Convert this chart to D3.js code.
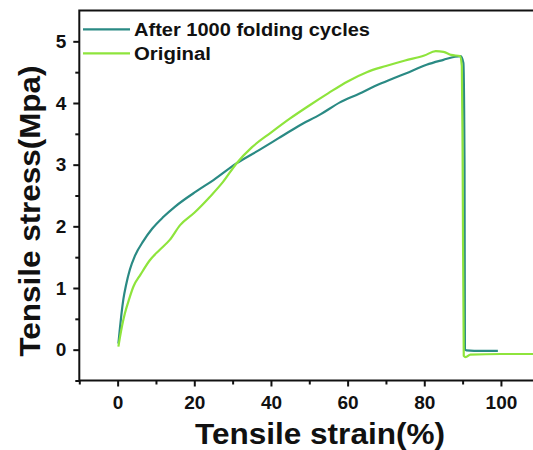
<!DOCTYPE html>
<html>
<head>
<meta charset="utf-8">
<script src="https://cdn.jsdelivr.net/npm/d3@7"></script>
<style>
  body { margin: 0; background: #fff; }
  svg { display: block; font-family: "Liberation Sans", Arial, sans-serif; }
</style>
</head>
<body>
<div id="chart"></div>
<script>
// Data: strain (%) and stress (MPa)
var seriesNames = ["After 1000 folding cycles", "Original"];
var seriesColors = ["#2a8a84", "#8ee43c"];

var afterStrain = [0.2, 0.6, 1.0, 1.5, 2.2, 3.2, 4.5, 6.7, 9.0, 11.9, 15.0, 20.6, 25.0, 31.0, 37.0, 42.0,
                   47.0, 53.0, 58.0, 63.0, 67.0, 72.0, 76.0, 80.6, 85.0, 88.0, 89.5, 90.2, 90.5, 90.6, 91.0, 95.0, 99.2];
var afterStress = [0.10, 0.35, 0.58, 0.82, 1.05, 1.30, 1.52, 1.76, 1.96, 2.15, 2.32, 2.57, 2.75, 3.02, 3.24, 3.43,
                   3.62, 3.82, 4.01, 4.15, 4.27, 4.40, 4.50, 4.62, 4.70, 4.75, 4.76, 4.65, 3.00, 0.00, -0.01, -0.02, -0.02];

var origStrain = [0.2, 0.6, 1.2, 1.9, 3.0, 4.1, 6.0, 8.4, 11.0, 13.6, 16.3, 20.0, 24.1, 27.5, 31.0, 35.0, 40.0,
                  45.0, 50.0, 55.0, 60.0, 65.0, 70.0, 75.0, 80.0, 83.0, 85.0, 87.0, 89.3, 89.8, 90.0, 90.3, 90.8, 92.0, 100.0, 112.0];
var origStress = [0.05, 0.20, 0.40, 0.59, 0.82, 1.02, 1.22, 1.45, 1.62, 1.78, 2.02, 2.22, 2.48, 2.72, 3.02, 3.28, 3.52,
                  3.75, 3.96, 4.16, 4.35, 4.50, 4.60, 4.69, 4.77, 4.84, 4.83, 4.78, 4.76, 4.60, 3.20, -0.10, -0.12, -0.08, -0.07, -0.07];

var xMajor = [0, 20, 40, 60, 80, 100];
var xMinor = [-10, 10, 30, 50, 70, 90, 110];
var yMajor = [0, 1, 2, 3, 4, 5];
var yMinor = [-0.5, 0.5, 1.5, 2.5, 3.5, 4.5];

var width = 533, height = 450;
var plotLeft = 79.3, plotTop = 10.5, plotBottom = 380.5, plotRight = 577.6;

var x = d3.scaleLinear().domain([-10, 120]).range([plotLeft, plotRight]);
var y = d3.scaleLinear().domain([-0.5, 5.5]).range([plotBottom, plotTop]);

var svg = d3.select("#chart").append("svg")
  .attr("width", width)
  .attr("height", height);

// curves
var line = d3.line()
  .x(function(d) { return x(d[0]); })
  .y(function(d) { return y(d[1]); })
  .curve(d3.curveMonotoneX);
var series = [d3.zip(afterStrain, afterStress), d3.zip(origStrain, origStress)];
series.forEach(function(s, i) {
  svg.append("path")
    .datum(s)
    .attr("d", line)
    .attr("fill", "none")
    .attr("stroke", seriesColors[i])
    .attr("stroke-width", 2.2)
    .attr("stroke-linejoin", "round");
});

// frame
svg.append("rect")
  .attr("x", plotLeft).attr("y", plotTop)
  .attr("width", plotRight - plotLeft).attr("height", plotBottom - plotTop)
  .attr("fill", "none").attr("stroke", "#111").attr("stroke-width", 2);

// x axis ticks
var xAxis = d3.axisBottom(x).tickValues(xMajor).tickSize(6).tickSizeOuter(0).tickPadding(9);
var gx = svg.append("g").attr("transform", "translate(0," + plotBottom + ")").call(xAxis);
gx.select(".domain").remove();
gx.selectAll(".tick line").attr("stroke", "#111").attr("stroke-width", 2);
gx.selectAll(".tick text").attr("fill", "#111").style("font-size", "19px").style("font-weight", "bold");
var gxm = svg.append("g").attr("transform", "translate(0," + plotBottom + ")")
  .call(d3.axisBottom(x).tickValues(xMinor).tickSize(4).tickFormat(""));
gxm.select(".domain").remove();
gxm.selectAll(".tick line").attr("stroke", "#111").attr("stroke-width", 2);

// y axis ticks
var yAxis = d3.axisLeft(y).tickValues(yMajor).tickFormat(d3.format("d"))
  .tickSize(6).tickSizeOuter(0).tickPadding(7);
var gy = svg.append("g").attr("transform", "translate(" + plotLeft + ",0)").call(yAxis);
gy.select(".domain").remove();
gy.selectAll(".tick line").attr("stroke", "#111").attr("stroke-width", 2);
gy.selectAll(".tick text").attr("fill", "#111").style("font-size", "19px").style("font-weight", "bold");
var gym = svg.append("g").attr("transform", "translate(" + plotLeft + ",0)")
  .call(d3.axisLeft(y).tickValues(yMinor).tickSize(4).tickFormat(""));
gym.select(".domain").remove();
gym.selectAll(".tick line").attr("stroke", "#111").attr("stroke-width", 2);

// axis titles
svg.append("text")
  .attr("x", 320).attr("y", 444)
  .attr("text-anchor", "middle")
  .attr("textLength", 250).attr("lengthAdjust", "spacingAndGlyphs")
  .style("font-size", "29px").style("font-weight", "bold")
  .attr("fill", "#111")
  .text("Tensile strain(%)");

svg.append("text")
  .attr("transform", "translate(40,211) rotate(-90)")
  .attr("text-anchor", "middle")
  .attr("textLength", 291).attr("lengthAdjust", "spacingAndGlyphs")
  .style("font-size", "29px").style("font-weight", "bold")
  .attr("fill", "#111")
  .text("Tensile stress(Mpa)");

// legend
var legendY = [29.3, 53.3];
var legendLen = [236, 77];
seriesNames.forEach(function(name, i) {
  svg.append("line")
    .attr("x1", 83).attr("x2", 130)
    .attr("y1", legendY[i]).attr("y2", legendY[i])
    .attr("stroke", seriesColors[i]).attr("stroke-width", 2.2);
  svg.append("text")
    .attr("x", 134).attr("y", legendY[i] + 6.5)
    .attr("textLength", legendLen[i]).attr("lengthAdjust", "spacingAndGlyphs")
    .style("font-size", "18px").style("font-weight", "bold")
    .attr("fill", "#111")
    .text(name);
});
</script>
</body>
</html>
